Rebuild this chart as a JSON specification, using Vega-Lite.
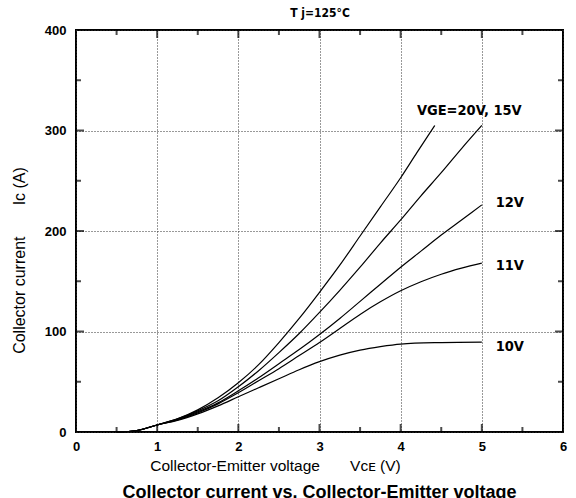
{
  "$schema": "https://vega.github.io/schema/vega-lite/v6.json",
  "width": 487,
  "height": 402,
  "autosize": {"type": "none"},
  "padding": {"left": 76, "top": 30, "right": 13, "bottom": 66},
  "background": "white",
  "config": {
    "view": {"stroke": "black", "strokeWidth": 2},
    "axis": {"labelFont": "Liberation Sans", "titleFont": "Liberation Sans", "labelColor": "black", "titleColor": "black"}
  },
  "title": {
    "text": "Collector current vs. Collector-Emitter voltage",
    "orient": "bottom",
    "anchor": "middle",
    "font": "Liberation Sans",
    "fontSize": 18,
    "fontWeight": "bold",
    "color": "black",
    "offset": 10
  },
  "datasets": {
    "curves": [
      {"VGE": "20V", "V": 0.5, "I": 0}, {"VGE": "20V", "V": 0.75, "I": 1.5}, {"VGE": "20V", "V": 1, "I": 7}, {"VGE": "20V", "V": 1.25, "I": 13}, {"VGE": "20V", "V": 1.5, "I": 22}, {"VGE": "20V", "V": 1.75, "I": 34}, {"VGE": "20V", "V": 2, "I": 49}, {"VGE": "20V", "V": 2.25, "I": 67}, {"VGE": "20V", "V": 2.5, "I": 89}, {"VGE": "20V", "V": 2.75, "I": 113}, {"VGE": "20V", "V": 3, "I": 139}, {"VGE": "20V", "V": 3.25, "I": 166}, {"VGE": "20V", "V": 3.5, "I": 195}, {"VGE": "20V", "V": 3.75, "I": 224}, {"VGE": "20V", "V": 4, "I": 253}, {"VGE": "20V", "V": 4.2, "I": 278}, {"VGE": "20V", "V": 4.42, "I": 305},
      {"VGE": "15V", "V": 0.5, "I": 0}, {"VGE": "15V", "V": 0.75, "I": 1.5}, {"VGE": "15V", "V": 1, "I": 7}, {"VGE": "15V", "V": 1.25, "I": 13}, {"VGE": "15V", "V": 1.5, "I": 21}, {"VGE": "15V", "V": 1.75, "I": 31}, {"VGE": "15V", "V": 2, "I": 45}, {"VGE": "15V", "V": 2.25, "I": 61}, {"VGE": "15V", "V": 2.5, "I": 79}, {"VGE": "15V", "V": 2.75, "I": 98}, {"VGE": "15V", "V": 3, "I": 119}, {"VGE": "15V", "V": 3.25, "I": 141}, {"VGE": "15V", "V": 3.5, "I": 164}, {"VGE": "15V", "V": 3.75, "I": 188}, {"VGE": "15V", "V": 4, "I": 211}, {"VGE": "15V", "V": 4.25, "I": 235}, {"VGE": "15V", "V": 4.5, "I": 258}, {"VGE": "15V", "V": 4.75, "I": 282}, {"VGE": "15V", "V": 5, "I": 305},
      {"VGE": "12V", "V": 0.5, "I": 0}, {"VGE": "12V", "V": 0.75, "I": 1.5}, {"VGE": "12V", "V": 1, "I": 7}, {"VGE": "12V", "V": 1.25, "I": 12.5}, {"VGE": "12V", "V": 1.5, "I": 20}, {"VGE": "12V", "V": 1.75, "I": 29}, {"VGE": "12V", "V": 2, "I": 41}, {"VGE": "12V", "V": 2.25, "I": 54}, {"VGE": "12V", "V": 2.5, "I": 68}, {"VGE": "12V", "V": 2.75, "I": 82}, {"VGE": "12V", "V": 3, "I": 97}, {"VGE": "12V", "V": 3.25, "I": 113}, {"VGE": "12V", "V": 3.5, "I": 130}, {"VGE": "12V", "V": 3.75, "I": 147}, {"VGE": "12V", "V": 4, "I": 164}, {"VGE": "12V", "V": 4.25, "I": 180}, {"VGE": "12V", "V": 4.5, "I": 196}, {"VGE": "12V", "V": 4.75, "I": 211}, {"VGE": "12V", "V": 5, "I": 226},
      {"VGE": "11V", "V": 0.5, "I": 0}, {"VGE": "11V", "V": 0.75, "I": 1.5}, {"VGE": "11V", "V": 1, "I": 7}, {"VGE": "11V", "V": 1.25, "I": 12}, {"VGE": "11V", "V": 1.5, "I": 19}, {"VGE": "11V", "V": 1.75, "I": 28}, {"VGE": "11V", "V": 2, "I": 39}, {"VGE": "11V", "V": 2.25, "I": 51}, {"VGE": "11V", "V": 2.5, "I": 63}, {"VGE": "11V", "V": 2.75, "I": 76}, {"VGE": "11V", "V": 3, "I": 89}, {"VGE": "11V", "V": 3.25, "I": 103}, {"VGE": "11V", "V": 3.5, "I": 117}, {"VGE": "11V", "V": 3.75, "I": 129.5}, {"VGE": "11V", "V": 4, "I": 140.5}, {"VGE": "11V", "V": 4.25, "I": 149.5}, {"VGE": "11V", "V": 4.5, "I": 157}, {"VGE": "11V", "V": 4.75, "I": 163}, {"VGE": "11V", "V": 5, "I": 168},
      {"VGE": "10V", "V": 0.5, "I": 0}, {"VGE": "10V", "V": 0.75, "I": 1.5}, {"VGE": "10V", "V": 1, "I": 7}, {"VGE": "10V", "V": 1.25, "I": 11.5}, {"VGE": "10V", "V": 1.5, "I": 18}, {"VGE": "10V", "V": 1.75, "I": 26}, {"VGE": "10V", "V": 2, "I": 35}, {"VGE": "10V", "V": 2.25, "I": 44}, {"VGE": "10V", "V": 2.5, "I": 53}, {"VGE": "10V", "V": 2.75, "I": 62}, {"VGE": "10V", "V": 3, "I": 70}, {"VGE": "10V", "V": 3.25, "I": 76.5}, {"VGE": "10V", "V": 3.5, "I": 81.5}, {"VGE": "10V", "V": 3.75, "I": 85}, {"VGE": "10V", "V": 4, "I": 87.5}, {"VGE": "10V", "V": 4.5, "I": 89}, {"VGE": "10V", "V": 5, "I": 89.5}
    ],
    "labels": [
      {"label": "VGE=20V, 15V", "V": 4.2, "I": 319},
      {"label": "12V", "V": 5.17, "I": 228},
      {"label": "11V", "V": 5.17, "I": 165},
      {"label": "10V", "V": 5.17, "I": 85}
    ],
    "xticks": [
      {"v": 0.5, "kind": "minor"}, {"v": 1, "kind": "major"}, {"v": 1.5, "kind": "minor"}, {"v": 2, "kind": "major"},
      {"v": 2.5, "kind": "minor"}, {"v": 3, "kind": "major"}, {"v": 3.5, "kind": "minor"}, {"v": 4, "kind": "major"},
      {"v": 4.5, "kind": "minor"}, {"v": 5, "kind": "major"}, {"v": 5.5, "kind": "minor"}
    ],
    "yticks": [
      {"v": 50, "kind": "minor"}, {"v": 100, "kind": "major"}, {"v": 150, "kind": "minor"}, {"v": 200, "kind": "major"},
      {"v": 250, "kind": "minor"}, {"v": 300, "kind": "major"}, {"v": 350, "kind": "minor"}
    ]
  },
  "layer": [
    {
      "data": {"name": "curves"},
      "mark": {"type": "line", "color": "black", "strokeWidth": 1.2, "interpolate": "monotone"},
      "encoding": {
        "x": {
          "field": "V", "type": "quantitative",
          "scale": {"domain": [0, 6], "nice": false, "zero": false},
          "axis": {
            "orient": "bottom", "values": [0, 1, 2, 3, 4, 5, 6], "ticks": false, "domain": false,
            "grid": true, "gridDash": [1, 2], "gridColor": "#333", "gridOpacity": 1, "gridWidth": 1,
            "labelFontSize": 13, "labelFontWeight": "bold", "labelPadding": 8, "labelFlush": false,
            "title": "Collector-Emitter voltage\u00a0\u00a0\u00a0\u00a0\u00a0\u00a0\u00a0Vᴄᴇ (V)", "titleFontSize": 15.5, "titleFontWeight": "normal",
            "titleX": 199, "titleAlign": "center", "titlePadding": 5
          }
        },
        "y": {
          "field": "I", "type": "quantitative",
          "scale": {"domain": [0, 400], "nice": false, "zero": false},
          "axis": {
            "orient": "left", "values": [0, 100, 200, 300, 400], "ticks": false, "domain": false,
            "grid": true, "gridDash": [1, 2], "gridColor": "#333", "gridOpacity": 1, "gridWidth": 1,
            "labelFontSize": 13, "labelFontWeight": "bold", "labelPadding": 10, "labelFlush": false,
            "title": "Collector current\u00a0\u00a0\u00a0\u00a0\u00a0\u00a0\u00a0Ic (A)", "titleFontSize": 16, "titleFontWeight": "normal",
            "titleX": -49, "titleY": 230, "titleAlign": "center", "titleBaseline": "bottom", "titleAngle": -90
          }
        },
        "detail": {"field": "VGE"}
      }
    },
    {
      "data": {"name": "xticks"},
      "transform": [{"filter": "datum.kind === 'major'"}],
      "mark": {"type": "tick", "color": "black", "thickness": 2, "size": 16, "orient": "vertical", "clip": true},
      "encoding": {
        "x": {"field": "v", "type": "quantitative", "axis": null},
        "y": {"datum": 0, "type": "quantitative", "axis": null}
      }
    },
    {
      "data": {"name": "xticks"},
      "transform": [{"filter": "datum.kind === 'major'"}],
      "mark": {"type": "tick", "color": "black", "thickness": 2, "size": 16, "orient": "vertical", "clip": true},
      "encoding": {
        "x": {"field": "v", "type": "quantitative", "axis": null},
        "y": {"datum": 400, "type": "quantitative", "axis": null}
      }
    },
    {
      "data": {"name": "xticks"},
      "transform": [{"filter": "datum.kind === 'minor'"}],
      "mark": {"type": "tick", "color": "black", "thickness": 2, "size": 10, "orient": "vertical", "clip": true},
      "encoding": {
        "x": {"field": "v", "type": "quantitative", "axis": null},
        "y": {"datum": 0, "type": "quantitative", "axis": null}
      }
    },
    {
      "data": {"name": "xticks"},
      "transform": [{"filter": "datum.kind === 'minor'"}],
      "mark": {"type": "tick", "color": "black", "thickness": 2, "size": 10, "orient": "vertical", "clip": true},
      "encoding": {
        "x": {"field": "v", "type": "quantitative", "axis": null},
        "y": {"datum": 400, "type": "quantitative", "axis": null}
      }
    },
    {
      "data": {"name": "yticks"},
      "transform": [{"filter": "datum.kind === 'major'"}],
      "mark": {"type": "tick", "color": "black", "thickness": 2, "size": 16, "orient": "horizontal", "clip": true},
      "encoding": {
        "y": {"field": "v", "type": "quantitative", "axis": null},
        "x": {"datum": 0, "type": "quantitative", "axis": null}
      }
    },
    {
      "data": {"name": "yticks"},
      "transform": [{"filter": "datum.kind === 'major'"}],
      "mark": {"type": "tick", "color": "black", "thickness": 2, "size": 16, "orient": "horizontal", "clip": true},
      "encoding": {
        "y": {"field": "v", "type": "quantitative", "axis": null},
        "x": {"datum": 6, "type": "quantitative", "axis": null}
      }
    },
    {
      "data": {"name": "yticks"},
      "transform": [{"filter": "datum.kind === 'minor'"}],
      "mark": {"type": "tick", "color": "black", "thickness": 2, "size": 10, "orient": "horizontal", "clip": true},
      "encoding": {
        "y": {"field": "v", "type": "quantitative", "axis": null},
        "x": {"datum": 0, "type": "quantitative", "axis": null}
      }
    },
    {
      "data": {"name": "yticks"},
      "transform": [{"filter": "datum.kind === 'minor'"}],
      "mark": {"type": "tick", "color": "black", "thickness": 2, "size": 10, "orient": "horizontal", "clip": true},
      "encoding": {
        "y": {"field": "v", "type": "quantitative", "axis": null},
        "x": {"datum": 6, "type": "quantitative", "axis": null}
      }
    },
    {
      "data": {"name": "labels"},
      "mark": {"type": "text", "align": "left", "baseline": "middle", "font": "DejaVu Sans Condensed", "fontWeight": "bold", "fontSize": 14.5, "color": "black"},
      "encoding": {
        "x": {
          "field": "V", "type": "quantitative",
          "axis": {"orient": "top", "labels": false, "domain": false, "grid": false, "ticks": false,
            "title": "T j=125°C", "titleFont": "DejaVu Sans Condensed", "titleFontSize": 12, "titleFontWeight": "bold", "titlePadding": 11}
        },
        "y": {"field": "I", "type": "quantitative", "axis": null},
        "text": {"field": "label"}
      }
    }
  ],
  "resolve": {"axis": {"x": "independent", "y": "independent"}}
}
